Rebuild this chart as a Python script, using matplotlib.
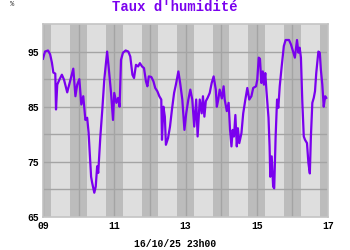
import matplotlib
matplotlib.use("Agg")
import matplotlib.pyplot as plt
from matplotlib.patches import Rectangle

# time in days since 09/10 00:00, humidity in %
days = [0.00, 0.056, 0.14, 0.20, 0.25, 0.29, 0.345, 0.365, 0.40, 0.46, 0.53, 0.59, 0.68, 0.76,
        0.85, 0.91, 0.96, 1.02, 1.075, 1.13, 1.19, 1.24, 1.28, 1.35, 1.38, 1.44, 1.48, 1.52,
        1.55, 1.61, 1.665, 1.72, 1.80, 1.85, 1.91, 1.965, 2.00, 2.06, 2.11, 2.15, 2.19, 2.245,
        2.32, 2.395, 2.45, 2.51, 2.555, 2.61, 2.67, 2.72, 2.78, 2.835, 2.89, 2.93, 2.97, 3.04,
        3.10, 3.15, 3.21, 3.265, 3.32, 3.34, 3.38, 3.42, 3.45, 3.51, 3.565, 3.62, 3.68, 3.73,
        3.80, 3.85, 3.91, 3.97, 4.02, 4.08, 4.135, 4.19, 4.245, 4.30, 4.34, 4.40, 4.455, 4.49,
        4.53, 4.57, 4.62, 4.68, 4.735, 4.79, 4.85, 4.88, 4.92, 4.96, 5.02, 5.07, 5.10, 5.16,
        5.21, 5.25, 5.29, 5.325, 5.36, 5.40, 5.44, 5.47, 5.51, 5.57, 5.62, 5.68, 5.735, 5.79,
        5.85, 5.90, 5.98, 6.015, 6.055, 6.09, 6.13, 6.17, 6.20, 6.24, 6.27, 6.33, 6.36, 6.38,
        6.42, 6.46, 6.49, 6.53, 6.57, 6.605, 6.645, 6.70, 6.76, 6.81, 6.905, 6.96, 7.02, 7.07,
        7.13, 7.17, 7.205, 7.24, 7.28, 7.32, 7.355, 7.41, 7.45, 7.49, 7.52, 7.56, 7.60, 7.635,
        7.67, 7.73, 7.77, 7.80, 7.84, 7.88, 7.92, 7.95]
humidity = [93.7, 95.0, 95.2, 94.5, 93.0, 91.2, 91.0, 84.5, 89.0, 89.9, 90.8, 89.9, 87.6, 89.6,
            91.9, 86.9, 89.0, 90.0, 85.4, 86.9, 82.6, 83.0, 80.3, 72.3, 71.2, 69.4, 70.5, 74.2,
            73.0, 79.6, 84.5, 89.9, 95.0, 91.7, 87.5, 82.6, 87.5, 85.7, 86.6, 85.0, 93.5, 94.8,
            95.2, 95.0, 94.1, 90.8, 90.2, 92.6, 92.3, 92.9, 92.3, 92.0, 89.6, 88.7, 90.5, 90.4,
            89.6, 88.4, 87.8, 86.9, 86.3, 79.0, 85.0, 83.2, 78.1, 79.3, 81.4, 84.5, 87.5, 89.0,
            91.4, 89.3, 86.3, 80.8, 83.8, 86.3, 88.1, 86.3, 81.4, 86.3, 79.6, 86.3, 83.8, 86.9,
            83.2, 86.0, 86.6, 87.5, 89.3, 90.5, 88.1, 85.0, 86.3, 88.1, 86.5, 88.7, 86.3, 84.2,
            85.7, 80.8, 77.8, 80.8, 79.6, 83.5, 77.8, 81.1, 78.4, 80.2, 83.8, 86.3, 88.4, 86.3,
            86.9, 88.4, 88.7, 89.9, 93.9, 93.7, 89.3, 91.4, 89.0, 91.1, 88.1, 83.0, 77.8, 72.3,
            76.0, 70.5, 70.2, 79.6, 86.3, 84.8, 88.7, 92.3, 96.0, 97.1, 97.1, 96.3, 95.0, 93.9,
            97.1, 94.8, 95.7, 93.9, 85.7, 79.6, 79.0, 78.4, 74.8, 72.9, 79.6, 85.7, 86.6, 87.8,
            91.1, 95.0, 94.8, 91.7, 89.0, 85.0, 86.9, 86.6]

x_ticks = [0, 2, 4, 6, 8]
x_labels = ["09", "11", "13", "15", "17"]
y_ticks = [65, 75, 85, 95]
night_start = 18.4 / 24
night_end = 5.6 / 24

purple = "#7a00ee"
mono = ["Liberation Mono", "DejaVu Sans Mono"]

fig = plt.figure(figsize=(3.5, 2.5), dpi=100)
ax = fig.add_axes([43 / 350, 33 / 250, 285 / 350, 193 / 250])
ax.set_xlim(0, 8)
ax.set_ylim(65, 100)
ax.set_facecolor("#dedede")

# night bands
for d in range(-1, 9):
    ax.axvspan(d + night_start, d + 1 + night_end, color="#bcbcbc", lw=0, zorder=0)

for d in range(0, 9):
    ax.axvline(d, color="#a4a4a4", lw=1.0, zorder=1)
for v in range(70, 100, 5):
    ax.axhline(v, color="#a4a4a4", lw=1.0, zorder=1)

ax.plot(days, humidity, color=purple, lw=1.6, zorder=3, solid_joinstyle="round")

for s in ax.spines.values():
    s.set_color("#c4c4c4")
    s.set_linewidth(1.2)

ax.set_xticks(x_ticks)
ax.set_xticklabels(x_labels)
ax.set_yticks(y_ticks)
ax.set_yticklabels([str(v) for v in y_ticks])
ax.tick_params(length=0, pad=3)
for lab in ax.get_xticklabels() + ax.get_yticklabels():
    lab.set_fontfamily(mono)
    lab.set_fontweight("bold")
    lab.set_fontsize(7)

fig.text(175 / 350, 1 - 7 / 250, "Taux d'humidité", color=purple, family=mono,
         fontweight="bold", fontsize=10, ha="center", va="center")
fig.text(12 / 350, 1 - 5 / 250, "%", color="#333333", family=mono, fontsize=5,
         ha="center", va="center")
fig.text(175 / 350, 1 - 244 / 250, "16/10/25 23h00", color="black", family=mono,
         fontweight="bold", fontsize=7, ha="center", va="center")

fig.savefig("out.png", dpi=100)
